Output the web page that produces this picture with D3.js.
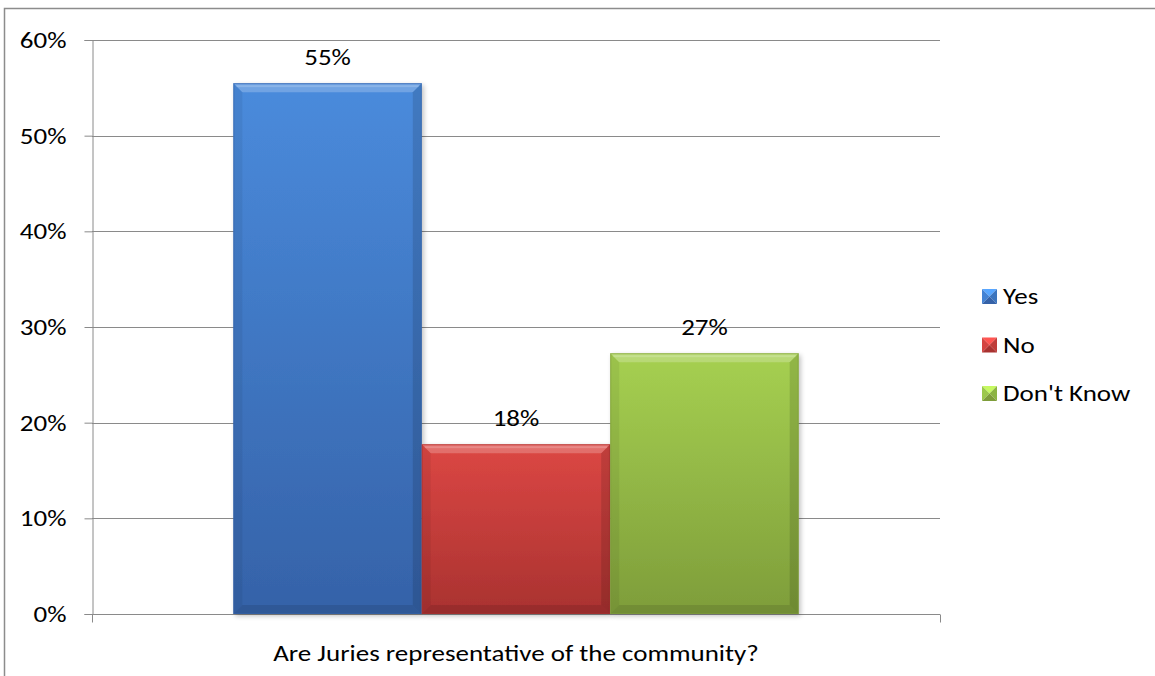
<!DOCTYPE html>
<html>
<head>
<meta charset="utf-8">
<script src="https://cdn.jsdelivr.net/npm/d3@7"></script>
<style>
  html, body { margin: 0; padding: 0; background: #fff; }
  svg { display: block; }
  text { font-family: Carlito, Calibri, Lato, "Liberation Sans", sans-serif; fill: #000; }
</style>
</head>
<body>
<svg id="chart" width="1155" height="676"></svg>
<script>
// Survey answers for a single question
const category = "Are Juries representative of the community?";
const answers = ["Yes", "No", "Don't Know"];
const shares = [0.5549, 0.1775, 0.2726];
const yTicks = [0, 0.1, 0.2, 0.3, 0.4, 0.5, 0.6];

// Base colours and gradient ends for each answer
const baseColors = ["#4382d4", "#d54441", "#9cc84b"];
const topColors = ["#4a8bdc", "#dc4744", "#a6d051"];
const bottomColors = ["#3562a8", "#a93230", "#7e9d3a"];

const FONT = 22;          // text size
const CAT_SPAN = 486;     // width the category label is stretched to

const svg = d3.select("#chart");
const margin = { left: 92, right: 215, top: 40, bottom: 62 };
const W = 1155, H = 676;
const plotW = W - margin.left - margin.right;
const plotH = H - margin.top - margin.bottom;

// Chart frame
svg.append("rect")
  .attr("x", 4.5).attr("y", 8.5)
  .attr("width", W).attr("height", H)
  .attr("fill", "none").attr("stroke", "#8c8c8c").attr("stroke-width", 1.5);

const g = svg.append("g").attr("transform", `translate(${margin.left},${margin.top})`);

const y = d3.scaleLinear().domain([0, 0.6]).range([plotH, 0]);
const xOuter = d3.scaleBand().domain([category]).range([0, plotW]).paddingInner(0).paddingOuter(0);
// gap of 150% of a bar width, split on both sides of the group
const barW = plotW / (answers.length + 1.5);
const x = d3.scaleBand().domain(answers)
  .range([xOuter(category) + barW * 0.75, xOuter(category) + barW * 0.75 + barW * answers.length])
  .padding(0);

// Gridlines
g.append("g").selectAll("line").data(yTicks.slice(1)).join("line")
  .attr("x1", 0).attr("x2", plotW)
  .attr("y1", d => Math.round(y(d)) + 0.5).attr("y2", d => Math.round(y(d)) + 0.5)
  .attr("stroke", "#8a8a8a").attr("stroke-width", 1);

// Category label (also used to set the horizontal text stretch)
const xAxisG = g.append("g").attr("transform", `translate(0,${Math.round(plotH) + 0.5})`);
const catLabel = xAxisG.append("text")
  .attr("text-anchor", "middle").attr("font-size", FONT).text(category);
const sx = CAT_SPAN / catLabel.node().getComputedTextLength();

// place a text element at (px, py) with the horizontal stretch
function place(sel, px, py) {
  sel.attr("x", 0).attr("y", 0)
    .attr("transform", `translate(${px},${py}) scale(${sx},1)`);
}
place(catLabel, xOuter(category) + xOuter.bandwidth() / 2, 46);

xAxisG.append("line").attr("x1", 0).attr("x2", plotW).attr("stroke", "#8a8a8a");
xAxisG.selectAll("line.tk").data([0, plotW]).join("line").attr("class", "tk")
  .attr("x1", d => d + 0.5).attr("x2", d => d + 0.5).attr("y1", 0).attr("y2", 8)
  .attr("stroke", "#8a8a8a");

// Y axis
const yAxis = g.append("g").attr("transform", "translate(0.5,0)")
  .call(d3.axisLeft(y).tickValues(yTicks).tickFormat(d3.format(".0%")).tickSize(8).tickPadding(25));
yAxis.select(".domain").attr("stroke", "#8a8a8a");
yAxis.selectAll(".tick line").attr("stroke", "#8a8a8a");
yAxis.selectAll(".tick text")
  .attr("font-size", FONT).attr("fill", "#000").attr("dy", null)
  .style("font-family", 'Carlito, Calibri, Lato, "Liberation Sans", sans-serif')
  .each(function () { place(d3.select(this), -26, 7.5); });

// Gradients
const defs = svg.append("defs");
answers.forEach((a, i) => {
  const lg = defs.append("linearGradient").attr("id", "grad" + i)
    .attr("x1", 0).attr("y1", 0).attr("x2", 0).attr("y2", 1);
  lg.append("stop").attr("offset", "0%").attr("stop-color", topColors[i]);
  lg.append("stop").attr("offset", "100%").attr("stop-color", bottomColors[i]);
});
const shadow = defs.append("filter").attr("id", "shadow")
  .attr("x", "-10%").attr("y", "-10%").attr("width", "130%").attr("height", "130%");
shadow.append("feGaussianBlur").attr("in", "SourceAlpha").attr("stdDeviation", 2.5);
shadow.append("feOffset").attr("dx", 2).attr("dy", 2).attr("result", "ob");
shadow.append("feComponentTransfer").append("feFuncA").attr("type", "linear").attr("slope", 0.25);
const mg = shadow.append("feMerge");
mg.append("feMergeNode");
mg.append("feMergeNode").attr("in", "SourceGraphic");

// Bars with a bevelled edge
const bev = 9;
const bars = g.append("g").selectAll("g.bar").data(answers).join("g").attr("class", "bar");
bars.each(function (a, i) {
  const sel = d3.select(this);
  const x0 = x(a), w = x.bandwidth();
  const y0 = y(shares[i]), h = y(0) - y(shares[i]);
  sel.append("rect").attr("x", x0).attr("y", y0).attr("width", w).attr("height", h)
    .attr("fill", `url(#grad${i})`).attr("filter", "url(#shadow)");
  const b = Math.min(bev, h / 2);
  // top bevel (lighter)
  sel.append("path")
    .attr("d", `M${x0},${y0}L${x0 + w},${y0}L${x0 + w - b},${y0 + b}L${x0 + b},${y0 + b}Z`)
    .attr("fill", "#ffffff").attr("opacity", 0.22);
  // thin highlight line near top
  sel.append("rect").attr("x", x0 + 3).attr("y", y0 + 2).attr("width", w - 6).attr("height", 2)
    .attr("fill", "#ffffff").attr("opacity", 0.18);
  // left bevel
  sel.append("path")
    .attr("d", `M${x0},${y0}L${x0 + b},${y0 + b}L${x0 + b},${y0 + h - b}L${x0},${y0 + h}Z`)
    .attr("fill", "#000000").attr("opacity", 0.06);
  // right bevel
  sel.append("path")
    .attr("d", `M${x0 + w},${y0}L${x0 + w - b},${y0 + b}L${x0 + w - b},${y0 + h - b}L${x0 + w},${y0 + h}Z`)
    .attr("fill", "#000000").attr("opacity", 0.12);
  // bottom bevel
  sel.append("path")
    .attr("d", `M${x0},${y0 + h}L${x0 + b},${y0 + h - b}L${x0 + w - b},${y0 + h - b}L${x0 + w},${y0 + h}Z`)
    .attr("fill", "#000000").attr("opacity", 0.1);
  // outline
  sel.append("rect").attr("x", x0 + 0.5).attr("y", y0 + 0.5).attr("width", w - 1).attr("height", h - 1)
    .attr("fill", "none").attr("stroke", bottomColors[i]).attr("stroke-opacity", 0.6);
});

// Value labels
g.append("g").selectAll("text").data(answers).join("text")
  .attr("text-anchor", "middle").attr("font-size", FONT)
  .text((a, i) => d3.format(".0%")(shares[i]))
  .each(function (a, i) { place(d3.select(this), x(a) + x.bandwidth() / 2, y(shares[i]) - 18); });

// Legend
const legend = svg.append("g").attr("transform", "translate(982,304)");
const items = legend.selectAll("g").data(answers).join("g")
  .attr("transform", (a, i) => `translate(0,${i * 48.5})`);
items.each(function (a, i) {
  const s = d3.select(this), k = 15, c = k / 2;
  const tri = [
    { d: `M0,${-k}L${k},${-k}L${c},${-c}Z`, col: d3.color(topColors[i]).brighter(0.5) },
    { d: `M0,${-k}L${c},${-c}L0,0Z`, col: baseColors[i] },
    { d: `M${k},${-k}L${k},0L${c},${-c}Z`, col: d3.color(baseColors[i]).darker(0.3) },
    { d: `M0,0L${k},0L${c},${-c}Z`, col: bottomColors[i] }
  ];
  tri.forEach(t => s.append("path").attr("d", t.d).attr("fill", t.col));
  const t = s.append("text").attr("font-size", FONT).text(a);
  place(t, 21, 0);
});
</script>
</body>
</html>
